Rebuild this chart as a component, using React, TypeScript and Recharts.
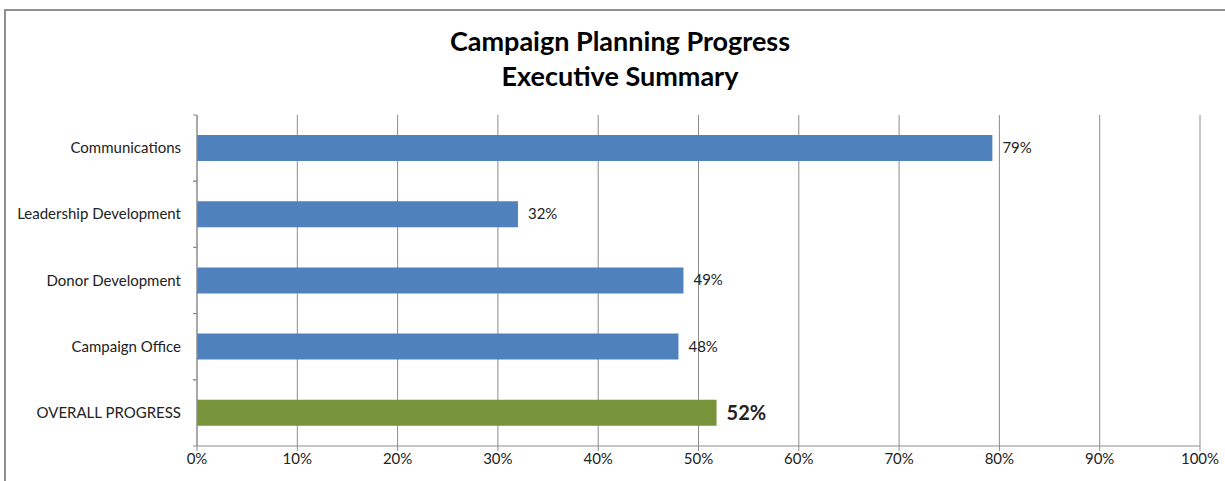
import { BarChart, Bar, XAxis, YAxis, CartesianGrid, Cell, LabelList } from "recharts";

const categories = [
  "Communications",
  "Leadership Development",
  "Donor Development",
  "Campaign Office",
  "OVERALL PROGRESS",
];
const progress = [0.793, 0.32, 0.485, 0.48, 0.518];
const xTicks = [0, 0.1, 0.2, 0.3, 0.4, 0.5, 0.6, 0.7, 0.8, 0.9, 1];

const data = categories.map((name, i) => ({ name, value: progress[i] }));

const FONT = "Lato, 'Open Sans', sans-serif";
const GRID = "#8c8c8c";
const TOTAL = "OVERALL PROGRESS";

function pct(v: number) {
  return `${Math.round(v * 100)}%`;
}

// category ticks sit between bands, like the original (Excel style)
function CategoryTick({ x, y, payload, band }: any) {
  const half = band / 2;
  return (
    <g>
      <line x1={x - 4} x2={x} y1={y - half} y2={y - half} stroke={GRID} />
      <line x1={x - 4} x2={x} y1={y + half} y2={y + half} stroke={GRID} />
      <text x={x - 16} y={y} dy={5} textAnchor="end" fontSize={15} fill="#222" fontFamily={FONT}>
        {payload.value}
      </text>
    </g>
  );
}

function ValueLabel({ x, y, width, height, value, index }: any) {
  const total = categories[index] === TOTAL;
  return (
    <text
      x={x + width + 10}
      y={y + height / 2}
      dy={total ? 7 : 5}
      fontSize={total ? 20 : 15}
      fontWeight={total ? 700 : 400}
      fill="#222"
      fontFamily={FONT}
    >
      {pct(value)}
    </text>
  );
}

export default function App() {
  const plotTop = 115;
  const plotBottom = 35;
  const band = (481 - plotTop - plotBottom) / categories.length;

  return (
    <div
      style={{
        position: "absolute",
        left: 0,
        top: 0,
        width: 1225,
        height: 481,
        overflow: "hidden",
        background: "#fff",
      }}
    >
      {/* frame of the chart, cut off on the right and bottom like the source */}
      <div
        style={{
          position: "absolute",
          left: 4,
          top: 9,
          width: 1240,
          height: 500,
          borderTop: "2px solid #8f8f8f",
          borderLeft: "2px solid #8f8f8f",
          boxSizing: "border-box",
        }}
      />
      <div
        style={{
          position: "absolute",
          left: 5,
          width: 1230,
          top: 23,
          textAlign: "center",
          fontFamily: FONT,
          fontWeight: 700,
          fontSize: 27,
          lineHeight: "35px",
          color: "#000",
        }}
      >
        Campaign Planning Progress
        <br />
        Executive Summary
      </div>
      <div style={{ position: "absolute", left: 0, top: 0 }}>
        <BarChart
          width={1225}
          height={481}
          data={data}
          layout="vertical"
          barSize={26}
          margin={{ top: plotTop, right: 25, left: 0, bottom: 5 }}
        >
          <CartesianGrid horizontal={false} stroke={GRID} />
          <XAxis
            type="number"
            domain={[0, 1]}
            ticks={xTicks}
            tickFormatter={pct}
            stroke={GRID}
            tickSize={5}
            height={30}
            tick={{ fontSize: 15, fill: "#222", fontFamily: FONT }}
            interval={0}
          />
          <YAxis
            type="category"
            dataKey="name"
            width={197}
            stroke={GRID}
            tickLine={false}
            tickSize={0}
            tickMargin={0}
            tick={<CategoryTick band={band} />}
            interval={0}
          />
          <Bar dataKey="value" isAnimationActive={false}>
            {data.map((d) => (
              <Cell key={d.name} fill={d.name === TOTAL ? "#77933C" : "#4F81BD"} />
            ))}
            <LabelList dataKey="value" content={<ValueLabel />} />
          </Bar>
        </BarChart>
      </div>
    </div>
  );
}
